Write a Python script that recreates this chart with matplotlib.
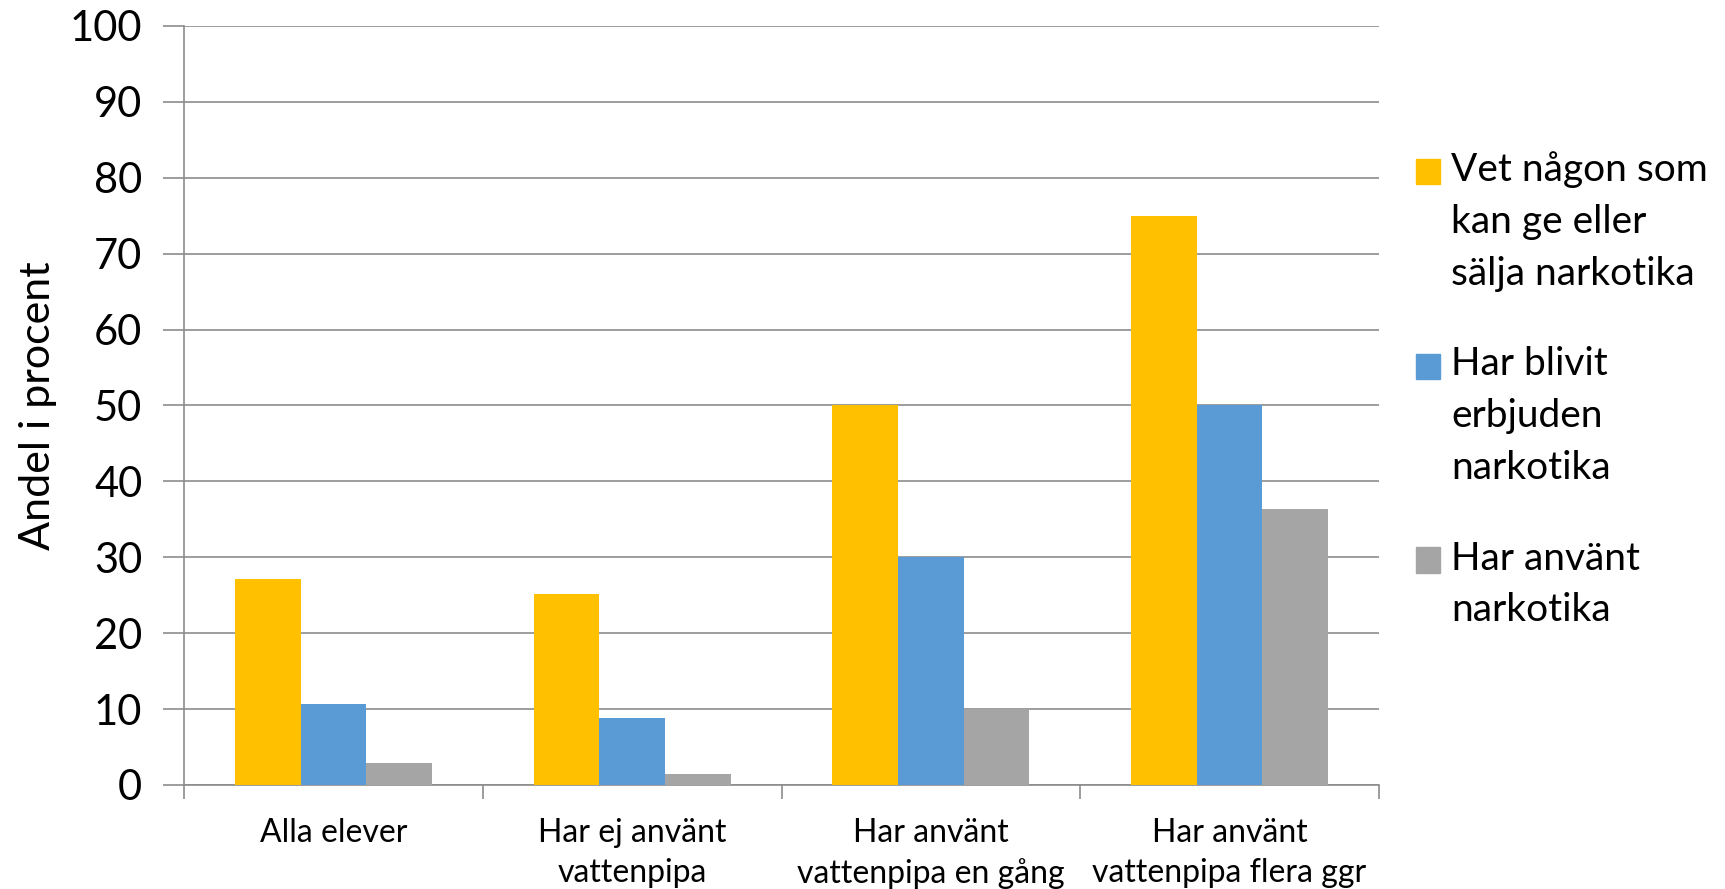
import numpy as np
import matplotlib.pyplot as plt
from matplotlib.patches import Patch, Rectangle
from matplotlib.legend_handler import HandlerPatch

# Data
categories = ["Alla elever", "Har ej använt\nvattenpipa",
              "Har använt\nvattenpipa en gång", "Har använt\nvattenpipa flera ggr"]
series_names = ["Vet någon som\nkan ge eller\nsälja narkotika",
                "Har blivit\nerbjuden\nnarkotika",
                "Har använt\nnarkotika"]
vet_nagon = [27.2, 25.1, 50.0, 75.0]
erbjuden = [10.7, 8.8, 30.0, 50.0]
anvant = [2.9, 1.4, 10.0, 36.4]
colors = ["#FFC000", "#5B9BD5", "#A5A5A5"]

plt.rcParams['font.family'] = ['Lato', 'DejaVu Sans']
grid_col = "#8c8c8c"

fig = plt.figure(figsize=(17.25, 8.89), dpi=100)
ax = fig.add_axes([184 / 1725, 1 - 785 / 889, (1379 - 184) / 1725, (785 - 26) / 889])

x = np.arange(len(categories))
width = 0.22
for i, (vals, c) in enumerate(zip([vet_nagon, erbjuden, anvant], colors)):
    ax.bar(x + (i - 1) * width, vals, width, color=c, zorder=3)

ax.set_xlim(-0.5, len(categories) - 0.5)
ax.set_ylim(0, 100)
ax.set_yticks(range(0, 101, 10))
ax.grid(axis="y", color=grid_col, linewidth=1.2, zorder=0)

# category labels without marks, boundary ticks as minor ticks
ax.set_xticks(x)
ax.set_xticklabels(categories, fontsize=23, linespacing=1.4)
ax.set_xticks(np.arange(-0.5, len(categories), 1), minor=True)
ax.tick_params(axis="x", which="major", length=0, pad=24)
ax.tick_params(axis="x", which="minor", length=10, width=1.2, color=grid_col, direction="out")
ax.tick_params(axis="y", length=15, width=1.2, color=grid_col, labelsize=30, pad=15)

for side in ["top", "right"]:
    ax.spines[side].set_visible(False)
for side in ["left", "bottom"]:
    ax.spines[side].set_color(grid_col)
    ax.spines[side].set_linewidth(1.2)

ax.set_ylabel("Andel i procent", fontsize=31, labelpad=9)

# legend: square marker aligned with the first line of each label
leg_fs = 28
line_step = 36.4  # points between text lines


def top_aligned(nlines):
    def make(legend, orig_handle, xdescent, ydescent, width, height, fontsize):
        off = (nlines - 1) / 2 * line_step
        return Rectangle((-xdescent, -ydescent + off), width, height)
    return HandlerPatch(patch_func=make)


handles = [Patch(color=c) for c in colors]
hmap = {h: top_aligned(name.count("\n") + 1) for h, name in zip(handles, series_names)}
leg = fig.legend(handles, series_names, handler_map=hmap, loc="upper left",
                 bbox_to_anchor=(1416 / 1725, 1 - 151 / 889), frameon=False,
                 fontsize=leg_fs, handlelength=0.62, handleheight=0.62,
                 handletextpad=0.28, labelspacing=1.4, borderpad=0, borderaxespad=0)
for t in leg.get_texts():
    t.set_linespacing(1.55)

plt.savefig("out.png", dpi=100)
